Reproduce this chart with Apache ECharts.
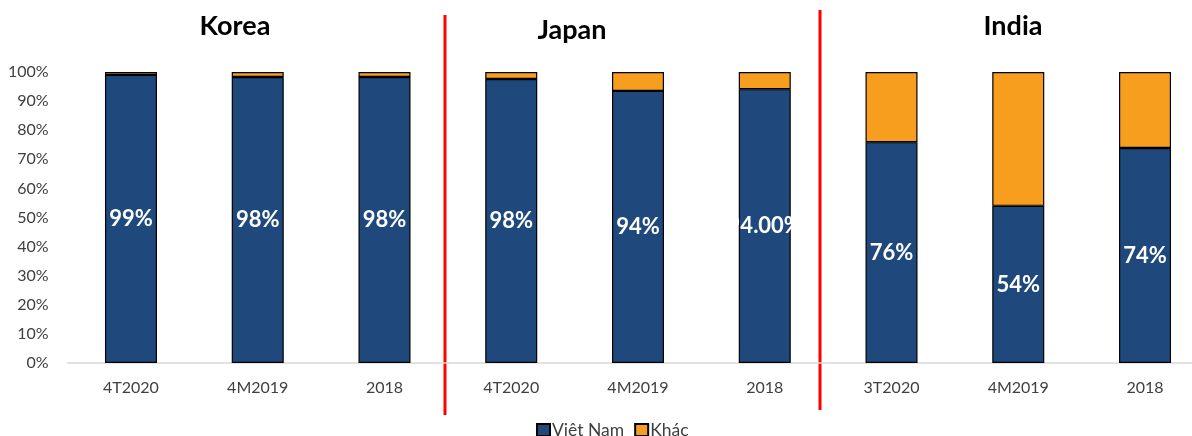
<!DOCTYPE html>
<html><head><meta charset="utf-8">
<script src="https://cdn.jsdelivr.net/npm/echarts@6/dist/echarts.min.js"></script>
<style>html,body{margin:0;padding:0;background:#fff}#c{width:1192px;height:436px}</style>
</head><body><div id="c"></div>
<script>
const categories = ['4T2020','4M2019','2018','4T2020','4M2019','2018','3T2020','4M2019','2018'];
const vietNam = [99, 98.3, 98.3, 97.6, 93.5, 94.1, 75.9, 54, 73.9];
const khac = [1, 1.7, 1.7, 2.4, 6.5, 5.9, 24.1, 46, 26.1];
const vnLabels = ['99%','98%','98%','98%','94%','94.00%','76%','54%','74%'];
const yTicks = [0,10,20,30,40,50,60,70,80,90,100];
const groupTitles = ['Korea','Japan','India'];

const FONT = 'Lato, "Open Sans", sans-serif';
const titleStyle = {fontSize: 27, fontWeight: 'bold', color: '#000', fontFamily: FONT};
const chart = echarts.init(document.getElementById('c'));
chart.setOption({
  animation: false,
  textStyle: {fontFamily: FONT},
  title: [
    {text: groupTitles[0], left: 230, top: 8, textAlign: 'center', textStyle: titleStyle},
    {text: groupTitles[1], left: 567, top: 12, textAlign: 'center', textStyle: titleStyle},
    {text: groupTitles[2], left: 1008, top: 8, textAlign: 'center', textStyle: titleStyle}
  ],
  grid: {left: 67.6, width: 1140.8, top: 72, bottom: 73, containLabel: false, outerBoundsMode: 'none'},
  legend: {
    top: 416, left: 531, itemWidth: 13, itemHeight: 12, itemGap: 10,
    icon: 'rect',
    textStyle: {fontSize: 17.5, color: '#404040', fontFamily: FONT, padding: [0,0,0,-3]},
    data: ['Việt Nam', 'Khác']
  },
  xAxis: {
    type: 'category', data: categories,
    axisLine: {lineStyle: {color: '#d9d9d9', width: 1.5}},
    axisTick: {show: false},
    axisLabel: {fontSize: 16, color: '#404040', margin: 17, fontFamily: FONT}
  },
  yAxis: {
    type: 'value', min: 0, max: 100, interval: 10,
    axisLine: {show: false}, axisTick: {show: false},
    splitLine: {show: false},
    axisLabel: {fontSize: 16, color: '#404040', margin: 19, fontFamily: FONT,
      formatter: v => yTicks.includes(v) ? v + '%' : ''}
  },
  series: [
    {
      name: 'Việt Nam', type: 'bar', stack: 'a', barWidth: 52,
      data: vietNam,
      itemStyle: {color: '#1F497D', borderColor: '#000', borderWidth: 1.2},
      label: {show: true, position: 'inside', color: '#fff', fontSize: 22, fontWeight: 'bold', fontFamily: FONT,
        formatter: p => vnLabels[p.dataIndex]}
    },
    {
      name: 'Khác', type: 'bar', stack: 'a', barWidth: 52,
      data: khac,
      itemStyle: {color: '#F79E1E', borderColor: '#000', borderWidth: 1.2}
    }
  ],
  graphic: [
    {type: 'line', shape: {x1: 445, y1: 15, x2: 445, y2: 415}, style: {stroke: '#FF0000', lineWidth: 3}},
    {type: 'line', shape: {x1: 820, y1: 10, x2: 820, y2: 410}, style: {stroke: '#FF0000', lineWidth: 3}}
  ]
});
</script></body></html>
